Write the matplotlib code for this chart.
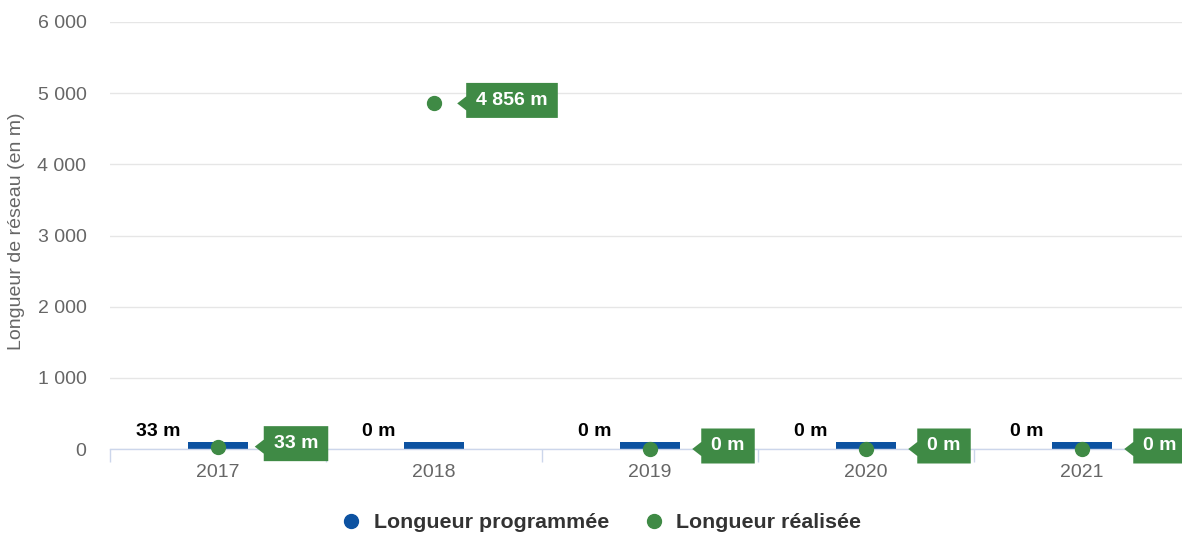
import matplotlib
matplotlib.use("Agg")
import matplotlib.pyplot as plt
from matplotlib.path import Path
from matplotlib.lines import Line2D

plt.rcParams['font.family'] = ['Liberation Sans', 'DejaVu Sans']

years = ["2017", "2018", "2019", "2020", "2021"]
programmee = [33, 0, 0, 0, 0]
realisee = [33, 4856, 0, 0, 0]
labels_prog = ["33 m", "0 m", "0 m", "0 m", "0 m"]
labels_real = ["33 m", "4 856 m", "0 m", "0 m", "0 m"]
yticks = [0, 1000, 2000, 3000, 4000, 5000, 6000]
ytick_labels = ["0", "1 000", "2 000", "3 000", "4 000", "5 000", "6 000"]

BLUE = "#0c52a1"
GREEN = "#3f8a45"
W, H = 1182, 534
fig = plt.figure(figsize=(W / 100, H / 100), dpi=100)
ax = fig.add_axes([110 / W, 1 - 449 / H, 1080 / W, 427 / H])
ax.set_xlim(-0.5, len(years) - 0.5)
ax.set_ylim(0, 6000)

for s in ["top", "right", "left"]:
    ax.spines[s].set_visible(False)
ax.spines["bottom"].set_color("#ccd6eb")
ax.spines["bottom"].set_linewidth(1)

ax.set_yticks(yticks)
ax.set_yticklabels(ytick_labels, color="#666666", fontsize=14)
ax.tick_params(axis="y", length=0, pad=17)
ax.yaxis.grid(True, color="#e6e6e6", linewidth=1)
ax.set_axisbelow(True)

x = list(range(len(years)))
ax.set_xticks(x)
ax.set_xticklabels(years, color="#666666", fontsize=14)
ax.tick_params(axis="x", length=0, pad=11)
ax.set_xticks([i - 0.5 for i in range(len(years) + 1)], minor=True)
ax.tick_params(axis="x", which="minor", length=9.5, color="#ccd6eb", width=1)

fig.text(17 / W, 1 - 231 / H, "Longueur de réseau (en m)", rotation=90,
         ha="center", va="center", color="#666666", fontsize=14)

# minimum visible bar height (px -> data units)
min_px = 7
min_h = min_px * 6000 / 427
bar_h = [max(v, min_h) for v in programmee]
ax.bar(x, bar_h, width=0.28, color=BLUE, zorder=2)

for xi, bh, lab in zip(x, bar_h, labels_prog):
    ax.annotate(lab, (xi, bh), xytext=(-38, 10), textcoords="offset pixels",
                ha="right", va="center", fontsize=14, fontweight="bold",
                color="black", zorder=5)

ax.scatter(x, realisee, s=100, color=GREEN, zorder=4, clip_on=False)

FS_PX = 14 * 100 / 72


def callout(x0, y0, width, height, mutation_size):
    k = mutation_size / FS_PX
    px, py, d, t = 10 * k, 9 * k, 7 * k, 9 * k
    cy = y0 + height / 2 - 3 * k
    L, R = x0 - px, x0 + width + px
    B, T = y0 - py, y0 + height + py
    pts = [(L, B), (R, B), (R, T), (L, T),
           (L, cy + d), (L - t, cy), (L, cy - d), (L, B)]
    codes = [Path.MOVETO] + [Path.LINETO] * (len(pts) - 2) + [Path.CLOSEPOLY]
    return Path(pts, codes)


for xi, v, lab in zip(x, realisee, labels_real):
    ax.annotate(lab, (xi, v), xytext=(78, 3), textcoords="offset pixels",
                ha="center", va="center", fontsize=14, fontweight="bold",
                color="white", zorder=6, annotation_clip=False,
                bbox=dict(boxstyle=callout, fc=GREEN, ec=GREEN, lw=0))

handles = [Line2D([], [], marker="o", linestyle="none", markersize=10,
                  markerfacecolor=BLUE, markeredgecolor=BLUE),
           Line2D([], [], marker="o", linestyle="none", markersize=10,
                  markerfacecolor=GREEN, markeredgecolor=GREEN)]
leg = fig.legend(handles, ["Longueur programmée", "Longueur réalisée"],
                 loc="center", bbox_to_anchor=(600 / W, 1 - 523 / H), ncol=2,
                 frameon=False, handletextpad=0.45, columnspacing=1.5,
                 handlelength=1.2, prop={"size": 15.4, "weight": "bold"})
for t in leg.get_texts():
    t.set_color("#333333")

fig.savefig("out.png", dpi=100)
